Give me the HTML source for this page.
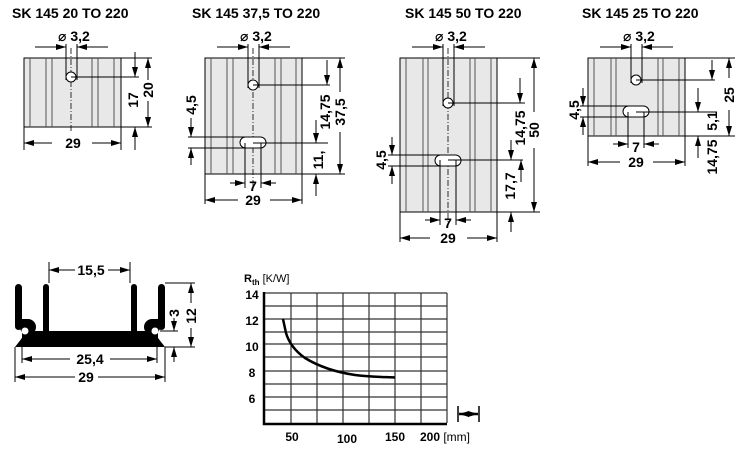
<!DOCTYPE html>
<html><head><meta charset="utf-8"><style>
html,body{margin:0;padding:0;background:#fff;}
svg{display:block;}
text{font-family:"Liberation Sans","DejaVu Sans",sans-serif;font-weight:bold;fill:#000;}
</style></head><body>
<svg width="750" height="456" viewBox="0 0 750 456" xmlns="http://www.w3.org/2000/svg">
<defs>
<marker id="a" viewBox="0 0 10 6" refX="10" refY="3" markerWidth="10" markerHeight="6" markerUnits="userSpaceOnUse" orient="auto-start-reverse"><path d="M0,0 L10,3 L0,6 z" fill="#000"/></marker>
</defs>
<g font-size="14">
<text x="12" y="18">SK 145 20 TO 220</text>
<text x="192" y="18">SK 145 37,5 TO 220</text>
<text x="405" y="18">SK 145 50 TO 220</text>
<text x="582" y="18">SK 145 25 TO 220</text>
</g>
<g stroke="#000" stroke-width="1" fill="none">
<!-- Drawing 1 -->
<rect x="24" y="58" width="97" height="69" fill="#e8e8e8"/>
<path d="M30,58V127M46,58V127M52,58V127M92,58V127M98,58V127M114,58V127" stroke="#555"/>
<line x1="71" y1="48" x2="71" y2="132" stroke-dasharray="6,2,1,2" stroke-width="0.8"/>
<circle cx="71" cy="77" r="5" fill="#fff"/>
<path d="M66,44V80M77,44V80M71,77H139M121,58H152M121,127H152M24,127V150M121,127V150"/>
<line x1="35" y1="47" x2="66" y2="47" marker-end="url(#a)"/>
<line x1="108" y1="47" x2="77" y2="47" marker-end="url(#a)"/>
<line x1="135" y1="52" x2="135" y2="77" marker-end="url(#a)"/>
<line x1="135" y1="150" x2="135" y2="127" marker-end="url(#a)"/>
<line x1="148" y1="80" x2="148" y2="58" marker-end="url(#a)"/>
<line x1="148" y1="101" x2="148" y2="127" marker-end="url(#a)"/>
<line x1="52" y1="143" x2="24" y2="143" marker-end="url(#a)"/>
<line x1="92" y1="143" x2="121" y2="143" marker-end="url(#a)"/>

<!-- Drawing 2 -->
<rect x="205" y="58" width="97" height="116" fill="#e8e8e8"/>
<path d="M211,58V174M227,58V174M233,58V174M275,58V174M281,58V174M296,58V174" stroke="#555"/>
<line x1="253" y1="48" x2="253" y2="186" stroke-dasharray="6,2,1,2" stroke-width="0.8"/>
<circle cx="253" cy="85" r="5" fill="#fff"/>
<rect x="240" y="137" width="26" height="11" rx="5.5" fill="#fff"/>
<path d="M248,44V88M259,44V88M253,85H330M253,143H328M302,58H345M302,174H345M188,137H245M188,148H245M245,143V188M261,143V188M205,174V204M302,174V204"/>
<line x1="217" y1="47" x2="248" y2="47" marker-end="url(#a)"/>
<line x1="290" y1="47" x2="259" y2="47" marker-end="url(#a)"/>
<line x1="327" y1="60" x2="327" y2="85" marker-end="url(#a)"/>
<line x1="316" y1="120" x2="316" y2="143" marker-end="url(#a)"/>
<line x1="316" y1="196" x2="316" y2="174" marker-end="url(#a)"/>
<line x1="340" y1="92" x2="340" y2="58" marker-end="url(#a)"/>
<line x1="340" y1="132" x2="340" y2="174" marker-end="url(#a)"/>
<line x1="191" y1="118" x2="191" y2="137" marker-end="url(#a)"/>
<line x1="191" y1="165" x2="191" y2="148" marker-end="url(#a)"/>
<line x1="230" y1="183" x2="245" y2="183" marker-end="url(#a)"/>
<line x1="276" y1="183" x2="261" y2="183" marker-end="url(#a)"/>
<line x1="238" y1="200" x2="205" y2="200" marker-end="url(#a)"/>
<line x1="270" y1="200" x2="302" y2="200" marker-end="url(#a)"/>

<!-- Drawing 3 -->
<rect x="400" y="58" width="97" height="154" fill="#e8e8e8"/>
<path d="M406,58V212M423,58V212M428,58V212M470,58V212M475,58V212M491,58V212" stroke="#555"/>
<line x1="448" y1="48" x2="448" y2="222" stroke-dasharray="6,2,1,2" stroke-width="0.8"/>
<circle cx="448" cy="103" r="5" fill="#fff"/>
<rect x="435" y="155" width="26" height="11" rx="5.5" fill="#fff"/>
<path d="M443,44V106M454,44V106M448,103H525M448,160H523M497,58H540M497,212H540M388,155H440M388,166H440M440,160V225M456,160V225M400,212V242M497,212V242"/>
<line x1="412" y1="47" x2="443" y2="47" marker-end="url(#a)"/>
<line x1="485" y1="47" x2="454" y2="47" marker-end="url(#a)"/>
<line x1="520" y1="78" x2="520" y2="103" marker-end="url(#a)"/>
<line x1="511" y1="140" x2="511" y2="160" marker-end="url(#a)"/>
<line x1="521" y1="182" x2="521" y2="160" marker-end="url(#a)"/>
<line x1="511" y1="232" x2="511" y2="212" marker-end="url(#a)"/>
<line x1="534" y1="112" x2="534" y2="58" marker-end="url(#a)"/>
<line x1="534" y1="148" x2="534" y2="212" marker-end="url(#a)"/>
<line x1="392" y1="137" x2="392" y2="155" marker-end="url(#a)"/>
<line x1="392" y1="184" x2="392" y2="166" marker-end="url(#a)"/>
<line x1="425" y1="220" x2="440" y2="220" marker-end="url(#a)"/>
<line x1="471" y1="220" x2="456" y2="220" marker-end="url(#a)"/>
<line x1="430" y1="238" x2="400" y2="238" marker-end="url(#a)"/>
<line x1="467" y1="238" x2="497" y2="238" marker-end="url(#a)"/>

<!-- Drawing 4 -->
<rect x="588" y="58" width="97" height="78" fill="#e8e8e8"/>
<path d="M594,58V136M611,58V136M616,58V136M658,58V136M663,58V136M679,58V136" stroke="#555"/>
<circle cx="636" cy="80" r="5" fill="#fff"/>
<rect x="623" y="106" width="26" height="11" rx="5.5" fill="#fff"/>
<path d="M631,44V83M642,44V83M636,80H715M636,112H717M685,58H735M685,136H735M580,106H630M580,117H630M628,112V148M644,112V148M588,136V166M685,136V166"/>
<line x1="600" y1="47" x2="631" y2="47" marker-end="url(#a)"/>
<line x1="673" y1="47" x2="642" y2="47" marker-end="url(#a)"/>
<line x1="712" y1="60" x2="712" y2="80" marker-end="url(#a)"/>
<line x1="698" y1="88" x2="698" y2="112" marker-end="url(#a)"/>
<line x1="698" y1="158" x2="698" y2="136" marker-end="url(#a)"/>
<line x1="729" y1="78" x2="729" y2="58" marker-end="url(#a)"/>
<line x1="729" y1="110" x2="729" y2="136" marker-end="url(#a)"/>
<line x1="583" y1="88" x2="583" y2="106" marker-end="url(#a)"/>
<line x1="583" y1="135" x2="583" y2="117" marker-end="url(#a)"/>
<line x1="613" y1="144" x2="628" y2="144" marker-end="url(#a)"/>
<line x1="659" y1="144" x2="644" y2="144" marker-end="url(#a)"/>
<line x1="620" y1="162" x2="588" y2="162" marker-end="url(#a)"/>
<line x1="653" y1="162" x2="685" y2="162" marker-end="url(#a)"/>
</g>

<!-- dim labels top -->
<g font-size="14">
<text x="58" y="41">⌀ 3,2</text>
<text x="240" y="41">⌀ 3,2</text>
<text x="435" y="41">⌀ 3,2</text>
<text x="623" y="41">⌀ 3,2</text>
<text x="73" y="148" text-anchor="middle">29</text>
<text x="253" y="205" text-anchor="middle">29</text>
<text x="448" y="243" text-anchor="middle">29</text>
<text x="636" y="167" text-anchor="middle">29</text>
<text x="253" y="191" text-anchor="middle">7</text>
<text x="448" y="228" text-anchor="middle">7</text>
<text x="636" y="152" text-anchor="middle">7</text>
<g text-anchor="middle">
<text transform="translate(138,100) rotate(-90)">17</text>
<text transform="translate(153,90) rotate(-90)">20</text>
<text transform="translate(196,105) rotate(-90)">4,5</text>
<text transform="translate(330,112) rotate(-90)">14,75</text>
<text transform="translate(345,112) rotate(-90)">37,5</text>
<text transform="translate(323,160) rotate(-90)">11,</text>
<text transform="translate(386,160) rotate(-90)">4,5</text>
<text transform="translate(525,128) rotate(-90)">14,75</text>
<text transform="translate(539,130) rotate(-90)">50</text>
<text transform="translate(515,186) rotate(-90)">17,7</text>
<text transform="translate(579,110) rotate(-90)">4,5</text>
<text transform="translate(734,95) rotate(-90)">25</text>
<text transform="translate(717,121) rotate(-90)">5,1</text>
<text transform="translate(717,157) rotate(-90)">14,75</text>
</g>
</g>

<!-- Cross section -->
<g fill="#000">
<g id="half">
<rect x="15" y="284" width="7" height="46" rx="3.5"/>
<rect x="43" y="284" width="6" height="50" rx="3"/>
<circle cx="28" cy="327" r="8"/>
<rect x="22" y="319" width="6" height="12"/>
<path d="M22,331 H90 V347 H15 L22,338 z"/>
</g>
<use href="#half" transform="translate(180,0) scale(-1,1)"/>
</g>
<circle cx="25" cy="331" r="3.5" fill="#fff"/>
<circle cx="155" cy="331" r="3.5" fill="#fff"/>
<g stroke="#000" fill="none" stroke-width="1">
<path d="M49,283V262M130,283V262M165,283H195M160,331H178M165,347H195M15,347V382M165,347V382M22,338V363M157,338V363"/>
<line x1="75" y1="270" x2="49" y2="270" marker-end="url(#a)"/>
<line x1="108" y1="270" x2="130" y2="270" marker-end="url(#a)"/>
<line x1="70" y1="359" x2="22" y2="359" marker-end="url(#a)"/>
<line x1="110" y1="359" x2="157" y2="359" marker-end="url(#a)"/>
<line x1="75" y1="377" x2="15" y2="377" marker-end="url(#a)"/>
<line x1="98" y1="377" x2="165" y2="377" marker-end="url(#a)"/>
<line x1="191" y1="303" x2="191" y2="283" marker-end="url(#a)"/>
<line x1="191" y1="328" x2="191" y2="347" marker-end="url(#a)"/>
<line x1="174" y1="318" x2="174" y2="331" marker-end="url(#a)"/>
<line x1="174" y1="362" x2="174" y2="347" marker-end="url(#a)"/>
</g>
<g font-size="14" text-anchor="middle">
<text x="91" y="275">15,5</text>
<text x="90" y="364">25,4</text>
<text x="86" y="382">29</text>
<text transform="translate(196,316) rotate(-90)">12</text>
<text transform="translate(179,313) rotate(-90)">3</text>
</g>

<!-- Chart -->
<g stroke="#333" stroke-width="1.2">
<path d="M264,293H447M264,306H447M264,319H447M264,332H447M264,344H447M264,357H447M264,371H447M264,384H447M264,397H447M264,410H447"/>
<path d="M291,293V423M317,293V423M343,293V423M369,293V423M395,293V423M421,293V423M447,293V423"/>
</g>
<path d="M264,292V424H447" stroke="#000" stroke-width="2.5" fill="none"/>
<path d="M283,319 L286,333 C289,343 295,351 305,358 C318,366 335,372 355,375 C370,377 385,377 395,377.5" stroke="#000" stroke-width="2.5" fill="none"/>
<g font-size="12" text-anchor="middle">
<text x="252" y="299">14</text>
<text x="252" y="325">12</text>
<text x="252" y="351">10</text>
<text x="252" y="377">8</text>
<text x="252" y="403">6</text>
<text x="292" y="441">50</text>
<text x="347" y="443">100</text>
<text x="395" y="441">150</text>
<text x="445" y="441">200 <tspan font-weight="normal">[mm]</tspan></text>
</g>
<text x="244" y="282" font-size="11">R<tspan font-size="8" dy="3">th</tspan><tspan dy="-3" font-weight="normal"> [K/W]</tspan></text>
<g stroke="#000" stroke-width="1.5">
<path d="M458,406V422M479,406V422"/>
<line x1="468" y1="414" x2="459" y2="414" marker-end="url(#a)" stroke-width="2.5"/>
<line x1="468" y1="414" x2="478" y2="414" marker-end="url(#a)" stroke-width="2.5"/>
</g>
</svg>
</body></html>
